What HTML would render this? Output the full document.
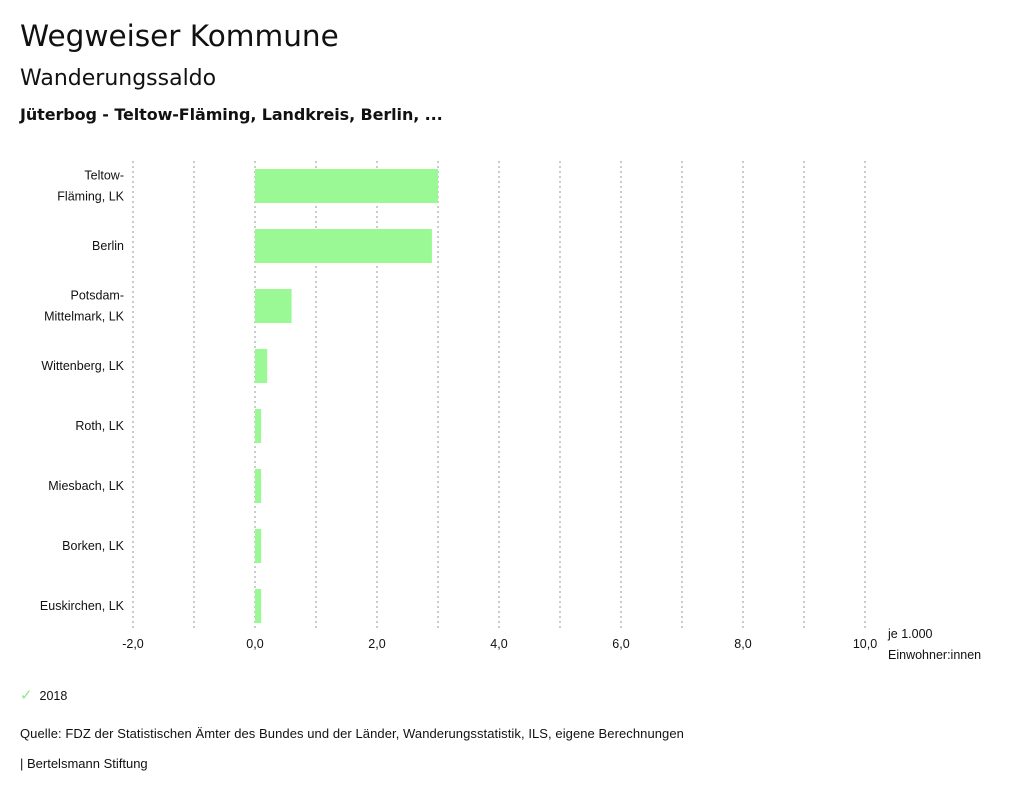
<!DOCTYPE html>
<html><head><meta charset="utf-8"><style>
body{margin:0;width:1024px;height:797px;background:#fff;font-family:"Liberation Sans","DejaVu Sans",sans-serif;color:#111;position:relative;overflow:hidden}
.t{position:absolute;white-space:nowrap}
</style></head><body>
<div class="t" style="left:20px;top:19px;font-size:29.5px;font-family:'DejaVu Sans',sans-serif">Wegweiser Kommune</div>
<div class="t" style="left:20px;top:66px;font-size:22px;font-family:'DejaVu Sans',sans-serif">Wanderungssaldo</div>
<div class="t" style="left:20px;top:105px;font-size:16px;font-weight:600;font-family:'DejaVu Sans',sans-serif;letter-spacing:-0.1px">Jüterbog - Teltow-Fläming, Landkreis, Berlin, ...</div>
<svg id="chart" width="1024" height="680" style="position:absolute;left:0;top:0" font-family="Liberation Sans, DejaVu Sans, sans-serif" font-size="12.5"></svg>
<div class="t" style="left:20px;top:686px;font-size:12.5px"><span style="color:#8ee68a;font-size:15px">✓</span>&nbsp;&nbsp;2018</div>
<div class="t" style="left:20px;top:726px;font-size:13px;letter-spacing:0.07px">Quelle: FDZ der Statistischen Ämter des Bundes und der Länder, Wanderungsstatistik, ILS, eigene Berechnungen</div>
<div class="t" style="left:20px;top:756px;font-size:13px">| Bertelsmann Stiftung</div>
<script>
const categories=[["Teltow-","Fläming, LK"],["Berlin"],["Potsdam-","Mittelmark, LK"],["Wittenberg, LK"],["Roth, LK"],["Miesbach, LK"],["Borken, LK"],["Euskirchen, LK"]];
const values2018=[3.0,2.9,0.6,0.2,0.1,0.1,0.1,0.1];
const tickValues=[-2,0,2,4,6,8,10];
const tickLabels=["-2,0","0,0","2,0","4,0","6,0","8,0","10,0"];
const svg=document.getElementById('chart');
const NS='http://www.w3.org/2000/svg';
const x=v=>255+v*61;
const rowTop=160,rowH=60;
function mk(t,a){const e=document.createElementNS(NS,t);for(const k in a)e.setAttribute(k,a[k]);svg.appendChild(e);return e;}
for(let v=-2;v<=10;v++){
 const g=mk('line',{x1:x(v),x2:x(v),y1:161,y2:630,stroke:'#999','stroke-dasharray':'2,3'});
 
 
}
tickValues.forEach((v,i)=>{
 const t=mk('text',{x:x(v),y:648,'text-anchor':'middle',fill:'#111'});t.textContent=tickLabels[i];
 
 
});
const u1=mk('text',{x:888,y:638,fill:'#111'});u1.textContent='je 1.000';


const u2=mk('text',{x:888,y:659,fill:'#111'});u2.textContent='Einwohner:innen';


categories.forEach((c,i)=>{
 const cy=rowTop+i*rowH+26;
 const v=values2018[i];
 const b=mk('rect',{x:Math.min(x(0),x(v)),y:cy-17,width:Math.abs(x(v)-x(0)),height:34,fill:'#9af895'});
 
 
 c.forEach((line,j)=>{
  const t=mk('text',{x:124,y:cy+4+(j-(c.length-1)/2)*21,'text-anchor':'end',fill:'#111'});t.textContent=line;
  
  
 });
});
</script>
</body></html>
